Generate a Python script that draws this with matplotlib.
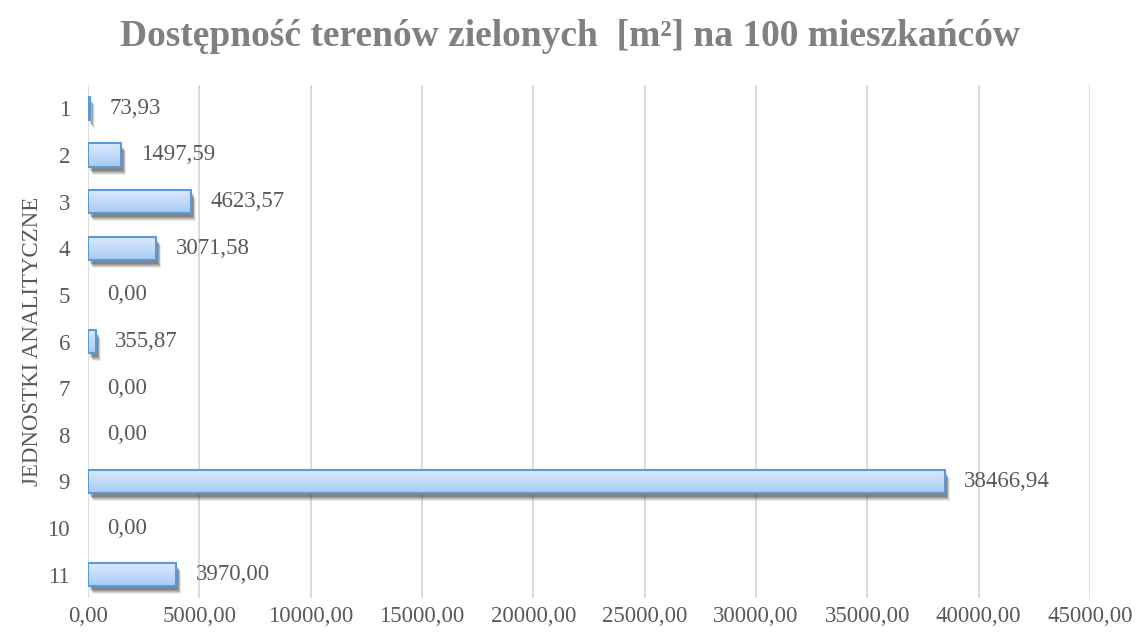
import numpy as np
import matplotlib.pyplot as plt
import matplotlib.transforms as mtransforms
from matplotlib.colors import LinearSegmentedColormap
from matplotlib.patches import Rectangle

# Data
categories = ['1', '2', '3', '4', '5', '6', '7', '8', '9', '10', '11']
values = [73.93, 1497.59, 4623.57, 3071.58, 0.00, 355.87, 0.00, 0.00, 38466.94, 0.00, 3970.00]
xticks = [0, 5000, 10000, 15000, 20000, 25000, 30000, 35000, 40000, 45000]

plt.rcParams['font.family'] = ['Liberation Serif', 'DejaVu Serif']
gray = '#595959'

fig = plt.figure(figsize=(11.4, 6.37), dpi=100)
ax = fig.add_axes([88 / 1140, 1 - 598 / 637, (1090 - 88) / 1140, (598 - 85) / 637])

y = np.arange(len(categories))
bars = ax.barh(y, values, height=0.5, color='none', edgecolor='#5B9BD5', linewidth=1.5, zorder=4)

# gradient fill + soft shadow for each bar
grad = np.linspace(0, 1, 100).reshape(-1, 1)
cmap = LinearSegmentedColormap.from_list('g', ['#DDEBFD', '#A7CAF5'])
for b in bars:
    w = b.get_width()
    if w <= 0:
        b.set_edgecolor('none')
        continue
    x0, y0, h = b.get_x(), b.get_y(), b.get_height()
    for dx, dy, a in [(5, -8, 0.10), (4, -7, 0.14), (3.5, -6, 0.18), (3, -5, 0.22), (2, -4, 0.25)]:
        tr = mtransforms.offset_copy(ax.transData, fig=fig, x=dx, y=dy, units='dots')
        ax.add_patch(Rectangle((x0, y0), w, h, facecolor='#404040', edgecolor='none',
                               alpha=a, transform=tr, zorder=2))
    im = ax.imshow(grad, cmap=cmap, aspect='auto', extent=(x0, x0 + w, y0 + h, y0), zorder=3)
    im.set_clip_path(b)

for yi, v in zip(y, values):
    ax.annotate(f'{v:.2f}'.replace('.', ','), (v, yi), xytext=(14, 0), textcoords='offset points',
                va='center', ha='left', fontsize=16.5, color=gray, zorder=5)

ax.set_xlim(0, 45000)
ax.set_ylim(len(categories) - 0.5, -0.5)
ax.set_xticks(xticks)
ax.set_xticklabels([f'{t:.2f}'.replace('.', ',') for t in xticks], fontsize=16.5, color=gray)
ax.set_yticks(y)
ax.set_yticklabels(categories, fontsize=16.5, color=gray)
ax.tick_params(length=0)
ax.tick_params(axis='y', pad=13)
ax.tick_params(axis='x', pad=6)
ax.grid(axis='x', color='#D9D9D9', linewidth=1.3, zorder=0)
ax.set_axisbelow(True)
for s in ax.spines.values():
    s.set_visible(False)

ax.set_ylabel('JEDNOSTKI ANALITYCZNE', fontsize=16.5, color=gray, va='center')
ax.yaxis.set_label_coords((33 - 88) / 1002, 0.5)
fig.text(0.5, 1 - 37 / 637, 'Dostępność terenów zielonych  [m²] na 100 mieszkańców',
         ha='center', va='center', fontsize=27, fontweight='bold', color='#808080')

fig.savefig('out.png', dpi=100)
